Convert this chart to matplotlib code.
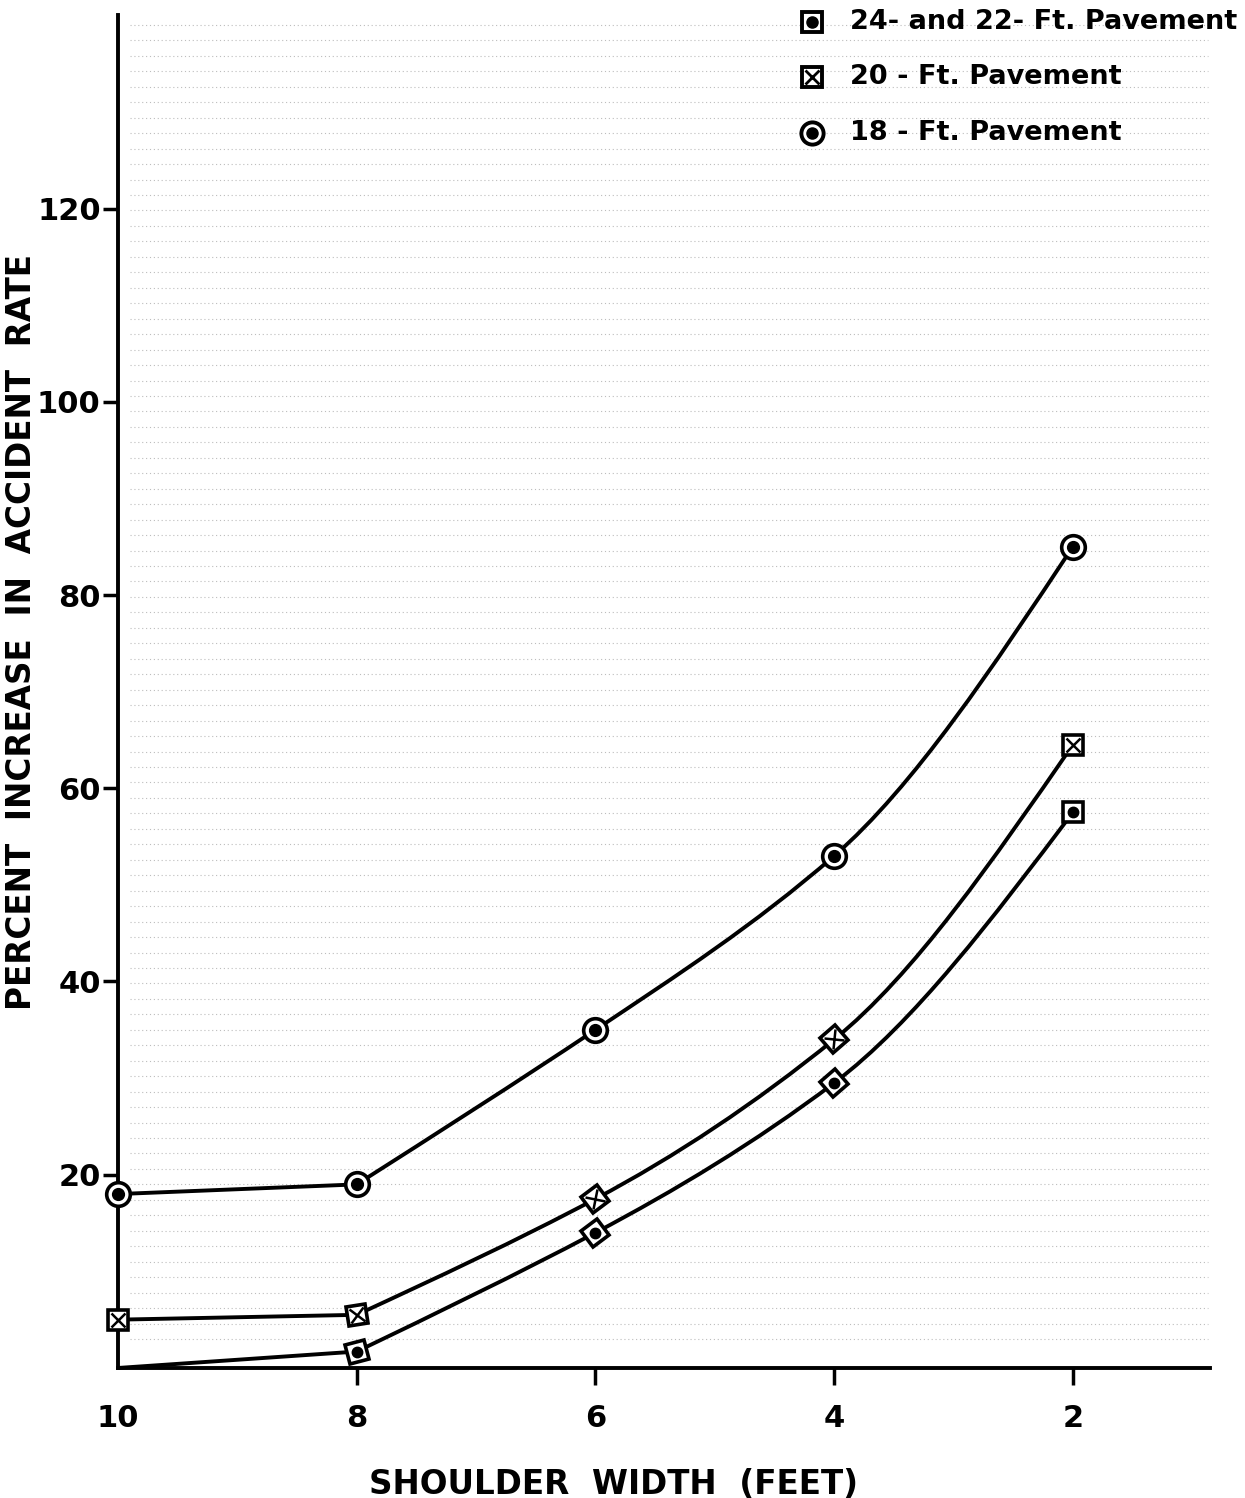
import numpy as np
import matplotlib
matplotlib.use("Agg")
import matplotlib.pyplot as plt
from matplotlib.path import Path
from matplotlib.patches import PathPatch
from matplotlib.markers import MarkerStyle
from matplotlib.transforms import Affine2D

# ---- data ----
shoulder_width = [10, 8, 6, 4, 2]
rate_18ft = [18, 19, 35, 53, 85]
rate_20ft = [5, 5.5, 17.5, 34, 64.5]
rate_24ft = [0, 1.7, 14, 29.5, 57.5]
x_ticks = [10, 8, 6, 4, 2]
x_ticklabels = ["10", "8", "6", "4", "2"]
y_ticks = [20, 40, 60, 80, 100, 120]
y_ticklabels = ["20", "40", "60", "80", "100", "120"]
legend_labels = ["24- and 22- Ft. Pavement", "20 - Ft. Pavement", "18 - Ft. Pavement"]

# ---- style ----
rot_24 = [0, 12, 35, 40, 0]
rot_20 = [0, 8, 35, 40, 0]
FONT = "DejaVu Sans"
LW = 2.8


def curve_path(xs, ys):
    """Straight first segment, then a smooth convex Hermite curve
    (drawn as cubic Bezier segments) through the remaining points."""
    xs = list(map(float, xs)); ys = list(map(float, ys))
    verts = [(xs[0], ys[0]), (xs[1], ys[1])]
    codes = [Path.MOVETO, Path.LINETO]
    u = [10 - v for v in xs[1:]]
    y = ys[1:]
    n = len(u)
    d = [(y[i + 1] - y[i]) / (u[i + 1] - u[i]) for i in range(n - 1)]
    m = [0.0] * n
    for i in range(1, n - 1):
        m[i] = (3 * d[i - 1] + d[i]) / 4
    m[0] = (3 * d[0] - m[1]) / 2
    m[-1] = (3 * d[-1] - m[-2]) / 2
    for i in range(n - 1):
        h = u[i + 1] - u[i]
        c1 = (10 - (u[i] + h / 3), y[i] + m[i] * h / 3)
        c2 = (10 - (u[i + 1] - h / 3), y[i + 1] - m[i + 1] * h / 3)
        verts += [c1, c2, (10 - u[i + 1], y[i + 1])]
        codes += [Path.CURVE4] * 3
    return Path(verts, codes)


fig = plt.figure(figsize=(12.45, 14.98), dpi=100)
ax = fig.add_axes([0.0948, 0.0868, 0.8772, 0.903])
ax.set_xlim(10, 0.85)
ax.set_ylim(0, 140)

# faint scan-like horizontal texture
for yy in np.arange(3, 140, 1.6):
    ax.plot([9.9, 0.87], [yy, yy], color="#bdbdbd", lw=0.8,
            linestyle=(0, (1, 2.5)), zorder=0)

for ys in (rate_18ft, rate_20ft, rate_24ft):
    ax.add_patch(PathPatch(curve_path(shoulder_width, ys), fill=False,
                           lw=LW, edgecolor="black", zorder=2,
                           capstyle="round", joinstyle="round", clip_on=False))

# 18-ft markers: circle with dot
ax.plot(shoulder_width, rate_18ft, linestyle="none", marker="o", ms=17,
        mfc="white", mec="black", mew=2.6, zorder=3, clip_on=False)
ax.plot(shoulder_width, rate_18ft, linestyle="none", marker="o", ms=8.5,
        mfc="black", mec="black", zorder=4, clip_on=False)

# 20-ft markers: square with X
for xv, yv, r in zip(shoulder_width, rate_20ft, rot_20):
    sq = MarkerStyle("s", transform=Affine2D().rotate_deg(r))
    xx = MarkerStyle("x", transform=Affine2D().rotate_deg(r))
    ax.plot([xv], [yv], linestyle="none", marker=sq, ms=14, mfc="white",
            mec="black", mew=2.6, zorder=3, clip_on=False)
    ax.plot([xv], [yv], linestyle="none", marker=xx, ms=10, mec="black",
            mew=1.8, zorder=4, clip_on=False)

# 24/22-ft markers: square with dot (none at the origin corner)
for xv, yv, r in list(zip(shoulder_width, rate_24ft, rot_24))[1:]:
    sq = MarkerStyle("s", transform=Affine2D().rotate_deg(r))
    ax.plot([xv], [yv], linestyle="none", marker=sq, ms=14, mfc="white",
            mec="black", mew=2.6, zorder=3, clip_on=False)
    ax.plot([xv], [yv], linestyle="none", marker="o", ms=7.5, mfc="black",
            mec="black", zorder=4, clip_on=False)

# spines & ticks
for s in ("top", "right"):
    ax.spines[s].set_visible(False)
for s in ("left", "bottom"):
    ax.spines[s].set_linewidth(2.8)
ax.set_xticks(x_ticks)
ax.set_xticklabels(x_ticklabels, fontsize=22, fontweight="bold", family=FONT)
ax.set_yticks(y_ticks)
ax.set_yticklabels(y_ticklabels, fontsize=22, fontweight="bold", family=FONT)
ax.tick_params(axis="x", direction="out", width=2.5, length=12, pad=14)
ax.tick_params(axis="y", direction="out", width=2.5, length=11, pad=1.5)
ax.xaxis.get_major_ticks()[0].tick1line.set_visible(False)

ax.set_xlabel("SHOULDER  WIDTH  (FEET)", fontsize=23.5, fontweight="bold",
              family=FONT)
ax.xaxis.set_label_coords(0.454, -0.0739)
ax.set_ylabel("PERCENT  INCREASE  IN  ACCIDENT  RATE", fontsize=23.5,
              fontweight="bold", family=FONT)
ax.yaxis.set_label_coords(-0.0733, 0.544)

# legend (manual)
leg_x, txt_x = 0.6355, 0.670
leg_y = [0.9948, 0.9542, 0.9128]
t = ax.transAxes
ax.plot([leg_x], [leg_y[0]], transform=t, marker="s", ms=15, mfc="white",
        mec="black", mew=2.8, clip_on=False, zorder=5)
ax.plot([leg_x], [leg_y[0]], transform=t, marker="o", ms=8, mfc="black",
        mec="black", clip_on=False, zorder=6)
ax.plot([leg_x], [leg_y[1]], transform=t, marker="s", ms=15, mfc="white",
        mec="black", mew=2.8, clip_on=False, zorder=5)
ax.plot([leg_x], [leg_y[1]], transform=t, marker="x", ms=10, mec="black",
        mew=2, clip_on=False, zorder=6)
ax.plot([leg_x], [leg_y[2]], transform=t, marker="o", ms=16, mfc="white",
        mec="black", mew=2.8, clip_on=False, zorder=5)
ax.plot([leg_x], [leg_y[2]], transform=t, marker="o", ms=8, mfc="black",
        mec="black", clip_on=False, zorder=6)
for lab, yy in zip(legend_labels, leg_y):
    ax.text(txt_x, yy, lab, transform=t, fontsize=19.5, fontweight="bold",
            family=FONT, va="center", ha="left")

fig.savefig("out.png", dpi=100, facecolor="white")
